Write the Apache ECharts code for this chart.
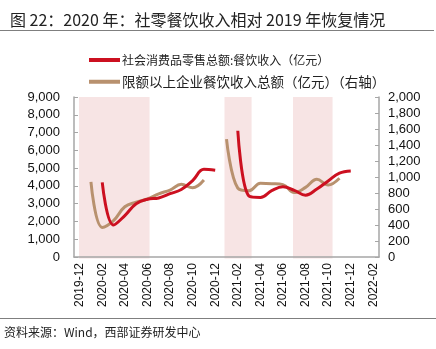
<!DOCTYPE html>
<html>
<head>
<meta charset="utf-8">
<script src="https://cdn.jsdelivr.net/npm/echarts@6/dist/echarts.min.js"></script>
<style>
  html, body { margin: 0; padding: 0; background: #fff; }
  #chart { width: 436px; height: 349px; }
</style>
</head>
<body>
<div id="chart"></div>
<script>
// Monthly categories, 2019-12 through 2022-02
const months = [
  '2019-12', '2020-01', '2020-02', '2020-03', '2020-04', '2020-05', '2020-06',
  '2020-07', '2020-08', '2020-09', '2020-10', '2020-11', '2020-12',
  '2021-01', '2021-02', '2021-03', '2021-04', '2021-05', '2021-06',
  '2021-07', '2021-08', '2021-09', '2021-10', '2021-11', '2021-12',
  '2022-01', '2022-02'
];

// 社会消费品零售总额:餐饮收入（亿元）, left axis
const cateringRevenue = [
  null, null, 4194, 1800, 2330, 3000, 3250,
  3320, 3560, 3800, 4300, 4930, 4880,
  null, 7100, 3420, 3350, 3730, 3950,
  3750, 3480, 3820, 4280, 4720, 4840,
  null, null
];

// 限额以上企业餐饮收入总额（亿元）, right axis
const aboveQuotaRevenue = [
  null, 940, 370, 455, 628, 685, 725,
  790, 837, 908, 866, 963, null,
  1473, 860, 828, 921, 916, 905,
  805, 870, 971, 900, 984, null,
  null, null
];

// Shaded periods, in month-slot units along the category axis
const shadedPeriods = [
  [0.44, 6.69],
  [13.32, 15.72],
  [19.39, 22.89]
];

const leftTicks = { min: 0, max: 9000, interval: 1000 };
const rightTicks = { min: 0, max: 2000, interval: 200 };

const FONT = '"Liberation Sans", Arial, "Noto Sans CJK SC", sans-serif';
const CJK = '"Noto Sans CJK SC", "Liberation Sans", sans-serif';
const axisGray = '#A6A6A6';
const fmt = v => Number(v).toLocaleString('en-US');

const chart = echarts.init(document.getElementById('chart'), null, { renderer: 'canvas' });

chart.setOption({
  animation: false,
  backgroundColor: '#fff',
  title: {
    text: '图 22：2020 年：社零餐饮收入相对 2019 年恢复情况',
    left: 5,
    top: 7,
    textStyle: { fontFamily: CJK, fontSize: 16, fontWeight: 'normal', color: '#222' }
  },
  graphic: [
    { type: 'line', shape: { x1: 0, y1: 30.5, x2: 434, y2: 30.5 }, style: { stroke: '#7F7F7F', lineWidth: 1 } },
    { type: 'line', shape: { x1: 0, y1: 318.5, x2: 436, y2: 318.5 }, style: { stroke: '#7F7F7F', lineWidth: 1 } },
    {
      type: 'text', left: 4, top: 326,
      style: { text: '资料来源：Wind，西部证券研发中心', font: '12px ' + CJK, fill: '#222' }
    }
  ],
  legend: {
    orient: 'vertical',
    left: 84,
    top: 49,
    itemWidth: 31,
    itemHeight: 4,
    itemGap: 9,
    icon: 'rect',
    data: [
      { name: '社会消费品零售总额:餐饮收入（亿元）', textStyle: { fontSize: 12 } },
      { name: '限额以上企业餐饮收入总额（亿元）（右轴）', textStyle: { fontSize: 13.5 } }
    ],
    textStyle: { fontFamily: CJK, color: '#222', padding: [0, 0, 0, -3] }
  },
  grid: { left: 74, right: 57, top: 97, bottom: 92, containLabel: false },
  xAxis: [
    {
      type: 'category',
      data: months,
      boundaryGap: true,
      z: 3,
      axisLine: { lineStyle: { color: axisGray, width: 1.5 } },
      axisTick: { inside: true, length: 4, interval: 1, lineStyle: { color: axisGray } },
      axisLabel: { rotate: 90, interval: 1, margin: 6, fontFamily: FONT, fontSize: 12, color: '#111' },
      splitLine: { show: false }
    },
    {
      type: 'value',
      min: 0,
      max: months.length,
      show: false
    }
  ],
  yAxis: [
    {
      type: 'value',
      min: leftTicks.min, max: leftTicks.max, interval: leftTicks.interval,
      z: 3,
      axisLine: { show: true, lineStyle: { color: axisGray, width: 1.5 } },
      axisTick: { show: true, inside: true, length: 4, lineStyle: { color: axisGray } },
      axisLabel: { margin: 14, fontFamily: FONT, fontSize: 13, color: '#111', formatter: fmt },
      splitLine: { show: false }
    },
    {
      type: 'value',
      position: 'right',
      min: rightTicks.min, max: rightTicks.max, interval: rightTicks.interval,
      z: 3,
      axisLine: { show: true, lineStyle: { color: axisGray, width: 1.5 } },
      axisTick: { show: true, inside: true, length: 4, lineStyle: { color: axisGray } },
      axisLabel: { margin: 9, fontFamily: FONT, fontSize: 13, color: '#111', formatter: fmt },
      splitLine: { show: false }
    }
  ],
  series: [
    {
      type: 'custom',
      xAxisIndex: 1,
      yAxisIndex: 0,
      z: 1,
      silent: true,
      data: shadedPeriods,
      renderItem: function (params, api) {
        const p0 = api.coord([api.value(0), leftTicks.max]);
        const p1 = api.coord([api.value(1), leftTicks.min]);
        return {
          type: 'rect',
          shape: { x: p0[0], y: p0[1], width: p1[0] - p0[0], height: p1[1] - p0[1] + 1.5 },
          style: { fill: '#F7E4E4' }
        };
      }
    },
    {
      name: '社会消费品零售总额:餐饮收入（亿元）',
      type: 'line',
      xAxisIndex: 0,
      yAxisIndex: 0,
      data: cateringRevenue,
      smooth: 0.4,
      connectNulls: false,
      showSymbol: false,
      symbol: 'none',
      z: 5,
      lineStyle: { color: '#CC1020', width: 3 },
      itemStyle: { color: '#CC1020' }
    },
    {
      name: '限额以上企业餐饮收入总额（亿元）（右轴）',
      type: 'line',
      xAxisIndex: 0,
      yAxisIndex: 1,
      data: aboveQuotaRevenue,
      smooth: 0.4,
      connectNulls: false,
      showSymbol: false,
      symbol: 'none',
      z: 4,
      lineStyle: { color: '#B8916E', width: 3 },
      itemStyle: { color: '#B8916E' }
    }
  ]
});
</script>
</body>
</html>
